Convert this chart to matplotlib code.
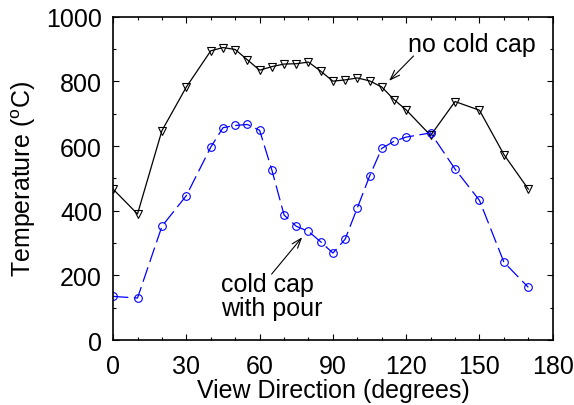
import matplotlib
matplotlib.use("Agg")
from matplotlib import pyplot as plt

plt.rcParams['font.family'] = ['Liberation Sans', 'DejaVu Sans']
plt.rcParams['mathtext.fontset'] = 'custom'
plt.rcParams['mathtext.rm'] = 'Liberation Sans'
plt.rcParams['lines.scale_dashes'] = False

# view direction (degrees)
angles = [0, 10, 20, 30, 40, 45, 50, 55, 60, 65, 70, 75, 80, 85, 90, 95,
          100, 105, 110, 115, 120, 130, 140, 150, 160, 170]
# temperatures (deg C)
no_cold_cap = [467, 390, 648, 783, 895, 905, 899, 867, 835, 846, 854, 855,
               860, 832, 801, 805, 811, 802, 783, 744, 712, 633, 738, 711,
               574, 467]
cold_cap_pour = [135, 130, 352, 447, 597, 657, 664, 667, 649, 526, 387, 352,
                 336, 304, 269, 312, 409, 507, 593, 615, 628, 641, 529, 432,
                 241, 163]

fig = plt.figure(figsize=(5.74, 4.06), dpi=100)
ax = fig.add_axes([0.197, 0.160, 0.766, 0.796])

ax.plot(angles, no_cold_cap, color='black', lw=0.9, marker='v', ms=5.2,
        mfc='none', mec='black', mew=0.8)
ax.plot(angles, cold_cap_pour, color='blue', lw=0.9, marker='o', ms=5.5,
        mfc='none', mec='blue', mew=0.8, dashes=(11, 4))

arrow = dict(arrowstyle='->, head_length=0.7, head_width=0.25',
             color='black', lw=0.8, shrinkA=0, shrinkB=0)
ax.text(120.7, 916, 'no cold cap', fontsize=18, va='center', ha='left')
ax.annotate('', xy=(113, 802), xytext=(123, 879), arrowprops=arrow)
ax.text(44.2, 136, 'cold cap\nwith pour', fontsize=18, va='center',
        ha='left', linespacing=1.0)
ax.annotate('', xy=(77.4, 318), xytext=(64.9, 204), arrowprops=arrow)

ax.set_xlim(0, 180)
ax.set_ylim(0, 1000)
ax.set_xticks(range(0, 181, 30))
ax.set_xticks(range(0, 181, 10), minor=True)
ax.set_yticks(range(0, 1001, 200))
ax.set_yticks(range(0, 1001, 100), minor=True)
ax.tick_params(which='both', direction='in', top=True, right=True,
               labelsize=18, width=0.8)
ax.tick_params(which='major', length=4)
ax.tick_params(which='minor', length=2.5)
ax.tick_params(axis='x', pad=10)
ax.tick_params(axis='y', pad=8)
for s in ax.spines.values():
    s.set_linewidth(1.2)

ax.set_xlabel('View Direction (degrees)', fontsize=18, labelpad=0)
ax.set_ylabel(r'Temperature ($^{\rm o}$C)', fontsize=18, labelpad=6)

fig.savefig('out.png', dpi=100)
